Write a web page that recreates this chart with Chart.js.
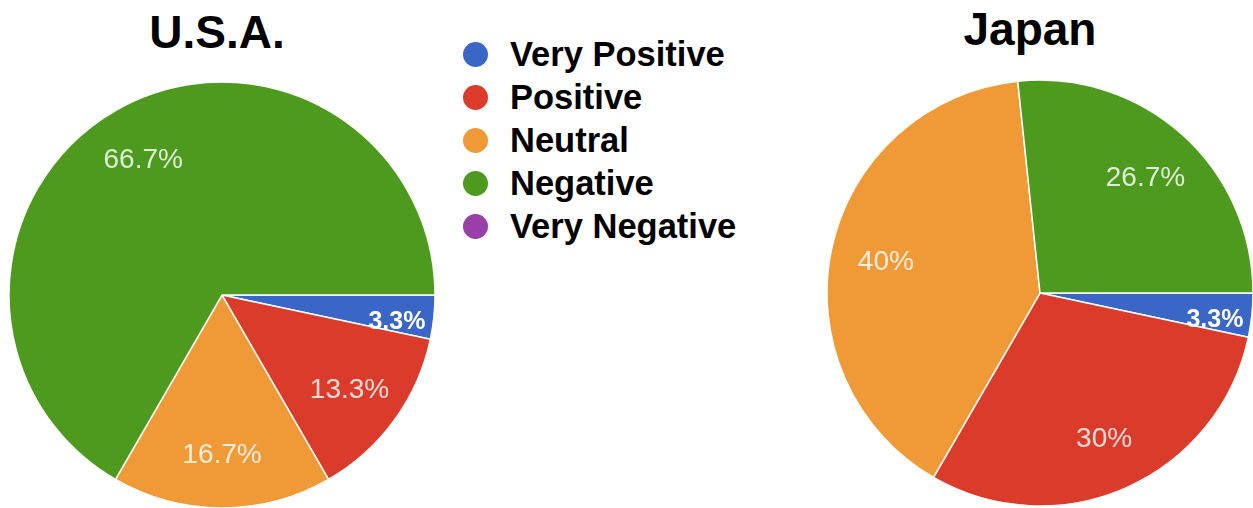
<!DOCTYPE html>
<html>
<head>
<meta charset="utf-8">
<script src="https://cdn.jsdelivr.net/npm/chart.js@4/dist/chart.umd.min.js"></script>
<style>
  html, body { margin: 0; padding: 0; background: #fff; }
  body { width: 1253px; height: 508px; position: relative; overflow: hidden;
         font-family: "Liberation Sans", Arial, sans-serif; }
  .title { position: absolute; font-weight: bold; font-size: 46px; line-height: 46px;
           color: #000; transform: translateX(-50%); white-space: nowrap; }
  canvas { position: absolute; }
  .leg { position: absolute; left: 463px; height: 43px; display: flex; align-items: center;
         font-weight: bold; font-size: 34.5px; color: #000; white-space: nowrap; }
  .dot { width: 25px; height: 25px; border-radius: 50%; margin-right: 22px; }
</style>
</head>
<body>
<div class="title" id="t1" style="left:217px; top:9px;"></div>
<div class="title" id="t2" style="left:1030px; top:6px;"></div>
<canvas id="usa" width="426" height="426" style="left:9px; top:82px;"></canvas>
<canvas id="japan" width="426" height="426" style="left:827px; top:80px;"></canvas>
<div id="legend"></div>
<script>
// ---- data ----
const categories = ["Very Positive", "Positive", "Neutral", "Negative", "Very Negative"];
const chartTitles = ["U.S.A.", "Japan"];
const usaValues = [1, 4, 5, 20, 0];
const japanValues = [1, 9, 12, 8, 0];

// ---- style ----
const sliceColors = ["#3a66c8", "#db3b2b", "#f09a37", "#4d9a1f", "#9a3ea8"];

document.getElementById('t1').textContent = chartTitles[0];
document.getElementById('t2').textContent = chartTitles[1];

// legend (HTML, from the category + colour arrays)
const legendEl = document.getElementById('legend');
categories.forEach((c, i) => {
  const row = document.createElement('div');
  row.className = 'leg';
  row.style.top = (33 + i * 43) + 'px';
  const dot = document.createElement('span');
  dot.className = 'dot';
  dot.style.background = sliceColors[i];
  const txt = document.createElement('span');
  txt.textContent = c;
  row.appendChild(dot); row.appendChild(txt);
  legendEl.appendChild(row);
});

function fmtPct(v, total) {
  const p = Math.round(v / total * 1000) / 10;
  return (p % 1 === 0 ? p.toFixed(0) : p.toFixed(1)) + '%';
}

const pctLabels = {
  id: 'pctLabels',
  afterDatasetsDraw(chart) {
    const ctx = chart.ctx;
    const ds = chart.data.datasets[0];
    const total = ds.data.reduce((a, b) => a + b, 0);
    const meta = chart.getDatasetMeta(0);
    meta.data.forEach((arc, i) => {
      const v = ds.data[i];
      if (!v) return;
      const { x, y, startAngle, endAngle, outerRadius } =
        arc.getProps(['x', 'y', 'startAngle', 'endAngle', 'outerRadius'], true);
      const mid = (startAngle + endAngle) / 2;
      const share = v / total;
      const small = share < 0.05;
      const f = small ? 0.83 : 0.74;
      const a = small ? mid + 0.04 : mid;
      const lx = x + Math.cos(a) * outerRadius * f;
      const ly = y + Math.sin(a) * outerRadius * f;
      ctx.save();
      ctx.textAlign = 'center';
      ctx.textBaseline = 'alphabetic';
      if (small) {
        ctx.font = 'bold 25px "Liberation Sans", Arial, sans-serif';
        ctx.fillStyle = '#ffffff';
        ctx.fillText(fmtPct(v, total), lx, ly + 9);
      } else {
        ctx.font = '28px "Liberation Sans", Arial, sans-serif';
        ctx.fillStyle = 'rgba(255,255,255,0.82)';
        ctx.fillText(fmtPct(v, total), lx, ly + 10);
      }
      ctx.restore();
    });
  }
};

function makePie(id, values) {
  return new Chart(document.getElementById(id), {
    type: 'pie',
    data: {
      labels: categories,
      datasets: [{
        data: values,
        backgroundColor: sliceColors,
        borderColor: '#ffffff',
        borderWidth: 1.5
      }]
    },
    options: {
      responsive: false,
      animation: false,
      devicePixelRatio: 1,
      rotation: 90,
      radius: 213,
      layout: { padding: 0 },
      plugins: { legend: { display: false }, tooltip: { enabled: false }, title: { display: false } }
    },
    plugins: [pctLabels]
  });
}

makePie('usa', usaValues);
makePie('japan', japanValues);
</script>
</body>
</html>
